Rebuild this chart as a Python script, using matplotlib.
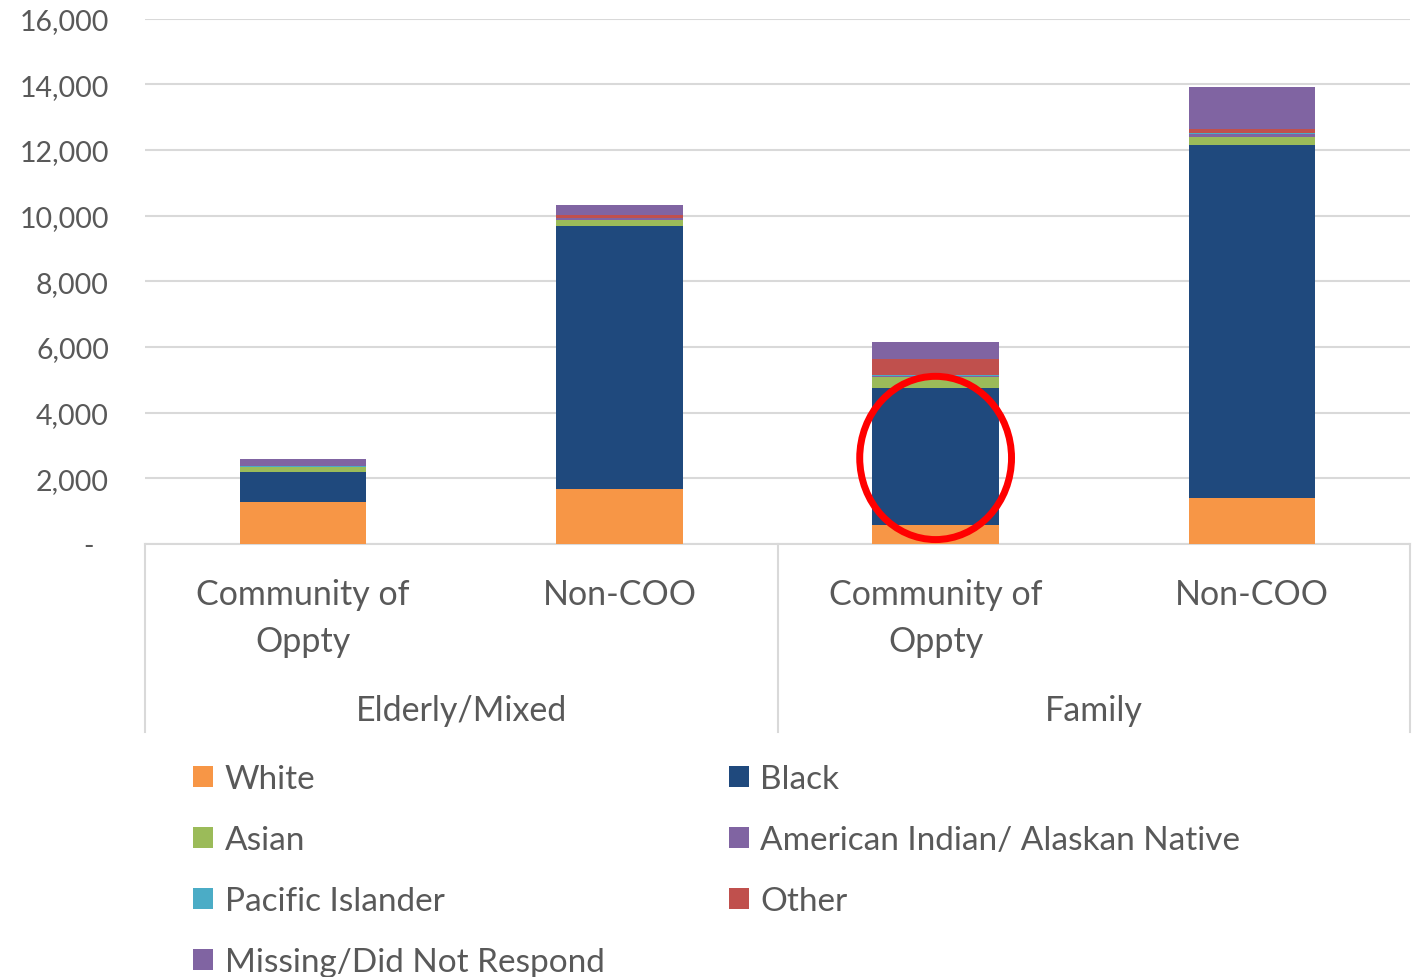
import matplotlib.pyplot as plt
from matplotlib.patches import Ellipse
from matplotlib.ticker import FuncFormatter
import numpy as np

plt.rcParams['font.family'] = ['Lato', 'DejaVu Sans']

# data
bars = ["Community of\nOppty", "Non-COO", "Community of\nOppty", "Non-COO"]
groups = ["Elderly/Mixed", "Family"]
series = ["White", "Black", "Asian", "American Indian/ Alaskan Native",
          "Pacific Islander", "Other", "Missing/Did Not Respond"]
white = [1270, 1680, 590, 1410]
black = [935, 8000, 4170, 10740]
asian = [130, 180, 325, 235]
am_indian = [20, 60, 40, 100]
pacific = [5, 10, 10, 15]
other = [30, 80, 500, 150]
missing = [200, 300, 530, 1260]
colors = ["#F79646", "#1F497D", "#9BBB59", "#8064A2", "#4BACC6", "#C0504D", "#8064A2"]

txt = "#595959"
grid = "#D9D9D9"

fig = plt.figure(figsize=(14.2, 9.78), dpi=100)
ax = fig.add_axes([145/1420, 1-545/978, 1265/1420, (545-19.5)/978])

x = np.arange(len(bars))
bottom = np.zeros(len(bars))
handles = []
for name, vals, c in zip(series, [white, black, asian, am_indian, pacific, other, missing], colors):
    h = ax.bar(x, vals, 0.4, bottom=bottom, color=c, label=name, zorder=3)
    handles.append(h)
    bottom += np.array(vals)

ax.set_xlim(-0.5, 3.5)
ax.set_ylim(0, 16000)
ax.set_yticks(np.arange(0, 16001, 2000))
ax.yaxis.set_major_formatter(FuncFormatter(lambda v, p: "-  " if v == 0 else f"{int(v):,}"))
ax.grid(axis="y", color=grid, lw=1.5, zorder=0)
for s in ["top", "right", "left"]:
    ax.spines[s].set_visible(False)
ax.spines["bottom"].set_color(grid)
ax.spines["bottom"].set_linewidth(1.5)
ax.tick_params(axis="y", length=0, pad=26, labelsize=20.5, labelcolor=txt)
ax.set_xticks(x)
ax.set_xticklabels(bars, linespacing=1.57)
ax.tick_params(axis="x", length=0, pad=24.5, labelsize=24.5, labelcolor=txt)

# group level of the category axis
yb = -(733-545)/(545-19.5)
for xf in [0, 0.5, 1]:
    ax.plot([xf, xf], [0, yb], transform=ax.transAxes, color=grid, lw=1.5, clip_on=False)
trans = ax.get_xaxis_transform()
for i, g in enumerate(groups):
    ax.text(0.5 + 2*i, -(711-545)/(545-19.5), g, transform=trans, ha="center", va="center",
            fontsize=24.5, color=txt)

# red circle highlight
ax.add_patch(Ellipse((2, 2620), 0.48, 4970, fill=False, edgecolor="red", lw=5, zorder=5))

order = [0, 2, 4, 6, 1, 3, 5]
leg = fig.legend([handles[i] for i in order], [series[i] for i in order], ncol=2,
                 loc="upper left", bbox_to_anchor=(163/1420, 1-735/978), frameon=False,
                 fontsize=24, labelcolor=txt, handlelength=0.6, handleheight=0.6,
                 handletextpad=0.35, labelspacing=0.93, columnspacing=3.72)

plt.savefig("out.png", dpi=100)
